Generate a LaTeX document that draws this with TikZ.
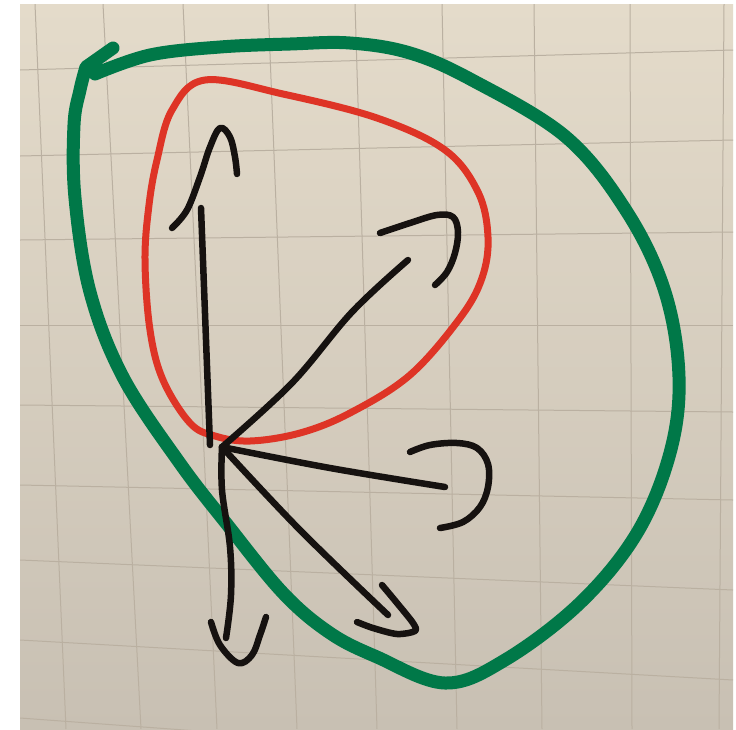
\documentclass[tikz,border=0pt]{standalone}
\usetikzlibrary{calc}
\definecolor{paperTop}{RGB}{228,219,202}
\definecolor{paperBot}{RGB}{200,192,179}
\definecolor{gridc}{RGB}{186,176,161}
\definecolor{inkgreen}{RGB}{0,120,72}
\definecolor{inkred}{RGB}{222,52,38}
\definecolor{inkblack}{RGB}{22,18,16}
\tikzset{
  gridline/.style={draw=gridc,line width=1pt},
  greenink/.style={draw=inkgreen,line width=13pt,line cap=round,line join=round},
  redink/.style={draw=inkred,line width=7pt,line cap=round,line join=round},
  blackink/.style={draw=inkblack,line width=6.5pt,line cap=round,line join=round},
}
\begin{document}
\begin{tikzpicture}[x=1pt,y=-1pt]
\useasboundingbox (0,0) rectangle (736,729);
\fill[white] (0,0) rectangle (736,729);
% paper
\shade[top color=paperTop,bottom color=paperBot] (20,4) rectangle (733,729);
\begin{scope}
\clip (20,4) rectangle (733,729);
% horizontal grid lines (left y, right y)
\foreach \a/\b in {70/50,156/140,240/232,325/325,405/412,485/500,560/590,640/680,718/770}
  \draw[gridline] (20,\a) -- (733,\b);
% vertical grid lines (top x, bottom x)
\foreach \a/\b in {35/66,103/141,183/217,268/297,355/377,442/457,534/542,630/632,724/719}
  \draw[gridline] (\a,4) -- (\b,729);
\end{scope}

% red loop
\draw[redink] plot[smooth cycle,tension=0.6] coordinates {
  (205,80) (283,94) (377,118) (445,150) (478,192) (488,237) (482,278)
  (460,318) (410,375) (350,413) (300,433) (250,441) (215,436) (190,423)
  (163,380) (150,330) (145,260) (149,205) (157,160) (172,110)};

% green loop with hook
\coordinate (gstart) at (95,74);
\coordinate (gcorner) at (86,67);
\coordinate (ghook) at (113,48);
\draw[greenink] plot[smooth,tension=0.6] coordinates {
  (gstart) (150,55) (220,47) (290,44) (350,43) (410,53) (472,80) (566,137)
  (627,212) (665,292) (679,377) (670,453) (637,533) (580,603) (505,660)
  (445,683) (377,657) (330,633) (283,593) (226,523) (179,462) (123,377)
  (90,292) (75,198) (74,125) (80,90) (gcorner)} -- (ghook);

% center of the star of arrows
\coordinate (c) at (222,447);

% up arrow
\coordinate (upEnd) at (201,208);
\draw[blackink] (210,445) -- (upEnd);
\draw[blackink] plot[smooth,tension=0.6] coordinates {
  (172,228) (187,210) (200,177) (210,147) (220,128) (230,137) (235,157) (237,174)};

% upper-right arrow
\coordinate (urEnd) at (408,260);
\draw[blackink] plot[smooth,tension=0.6] coordinates {
  (c) (292,383) (352,312) (urEnd)};
\draw[blackink] plot[smooth,tension=0.6] coordinates {
  (380,233) (410,223) (437,215) (453,217) (458,232) (455,253) (447,272) (435,285)};

% right arrow
\coordinate (rEnd) at (445,487);
\draw[blackink] plot[smooth,tension=0.6] coordinates {
  (c) (330,468) (rEnd)};
\draw[blackink] plot[smooth,tension=0.6] coordinates {
  (410,452) (430,445) (457,443) (477,448) (488,464) (488,487) (480,507) (463,522) (440,528)};

% lower-right arrow
\coordinate (lrEnd) at (388,615);
\draw[blackink] plot[smooth,tension=0.6] coordinates {
  (c) (300,530) (lrEnd)};
\draw[blackink] plot[smooth,tension=0.5] coordinates {
  (382,585) (397,603) (413,623) (415,631) (397,634) (373,628) (357,622)};

% down arrow
\coordinate (dEnd) at (226,638);
\draw[blackink] plot[smooth,tension=0.6] coordinates {
  (c) (222,490) (230,547) (231,595) (dEnd)};
\draw[blackink] plot[smooth,tension=0.6] coordinates {
  (211,622) (220,645) (238,663) (252,655) (260,635) (266,617)};
\end{tikzpicture}
\end{document}
